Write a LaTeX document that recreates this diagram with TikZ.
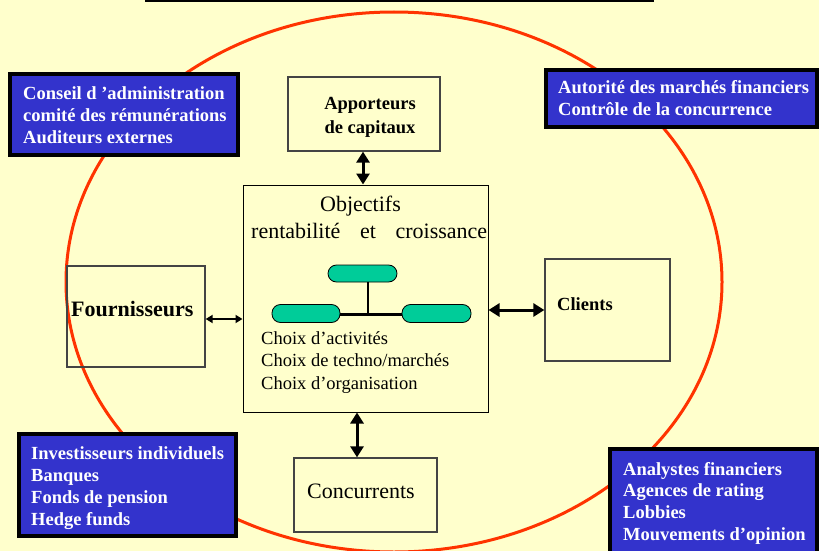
\documentclass[tikz,border=0pt]{standalone}
\usepackage{fontspec}
\setmainfont{Liberation Serif}
\usetikzlibrary{arrows.meta}
\definecolor{bg}{HTML}{FFFFCC}
\definecolor{bluebox}{HTML}{3333CC}
\definecolor{teal}{HTML}{00CC99}
\definecolor{redell}{HTML}{FF3300}
\definecolor{boxline}{HTML}{444444}
\tikzset{
  plainbox/.style={draw=boxline, line width=1.3pt, rectangle, inner sep=0pt},
  bluepanel/.style={draw=black, fill=bluebox, line width=4pt, rectangle, inner sep=0pt},
  bluetxt/.style={text=white, inner sep=0pt, anchor=base west, align=left,
    font=\fontsize{18.5}{22.3}\selectfont\bfseries},
  oval/.style={draw=black, fill=teal, line width=0.8pt, rounded corners=8.5pt, inner sep=0pt},
  bigarr/.style={line width=3pt, {Triangle[length=11pt,width=13pt]}-{Triangle[length=11pt,width=13pt]}},
  smallarr/.style={line width=2pt, {Triangle[length=7pt,width=8pt]}-{Triangle[length=7pt,width=8pt]}},
  lbl/.style={inner sep=0pt, anchor=base west}
}
\begin{document}
\begin{tikzpicture}[x=1pt,y=-1pt]
\useasboundingbox[fill=bg] (0,0) rectangle (819,551);
% title rule
\draw[line width=2pt] (145,1) -- (654,1);
% red ellipse
\draw[redell, line width=3pt] (394,282) ellipse [x radius=328pt, y radius=270pt];

% blue panels (text nodes anchored at the baseline of their last line)
\node[bluepanel, minimum width=228pt, minimum height=81pt] (cons) at (124,114.5) {};
\node[bluetxt] (const) at (23,143.6) {Conseil d ’administration\\comité des rémunérations\\Auditeurs externes};
\node[bluepanel, minimum width=271pt, minimum height=57pt] (auto) at (681.5,98.5) {};
\node[bluetxt, font=\fontsize{18.5}{22}\selectfont\bfseries] (autot) at (558,115.5) {Autorité des marchés financiers\\Contrôle de la concurrence};
\node[bluepanel, minimum width=217pt, minimum height=102pt] (inv) at (127.5,485) {};
\node[bluetxt] (invt) at (31,525.9) {Investisseurs individuels\\Banques\\Fonds de pension\\Hedge funds};
\node[bluepanel, minimum width=207pt, minimum height=104pt] (ana) at (713.5,501) {};
\node[bluetxt, font=\fontsize{18.5}{21.7}\selectfont\bfseries] (anat) at (623,540.1) {Analystes financiers\\Agences de rating\\Lobbies\\Mouvements d’opinion};

% plain boxes
\node[draw=black, line width=1pt, rectangle, inner sep=0pt, minimum width=245pt, minimum height=227pt] (obj) at (365.5,298.5) {};
\node[plainbox, minimum width=152pt, minimum height=74pt] (app) at (364,114) {};
\node[plainbox, minimum width=138pt, minimum height=101pt] (four) at (136,316.5) {};
\node[plainbox, minimum width=125pt, minimum height=102pt] (cli) at (607.5,310) {};
\node[plainbox, minimum width=143pt, minimum height=74pt] (conc) at (365.5,495) {};

% texts
\node[inner sep=0pt, anchor=base, align=center, font=\fontsize{18.5}{24}\selectfont\bfseries] (appt) at (370,133) {Apporteurs\\de capitaux};
\node[inner sep=0pt, anchor=base, font=\fontsize{22}{26}\selectfont] (objt1) at (360.5,211) {Objectifs};
\node[lbl, font=\fontsize{22}{26}\selectfont] (objt2) at (251,238) {\hbox to 236pt{rentabilité\hfil et\hfil croissance}};
\node[lbl, align=left, font=\fontsize{18.5}{22.5}\selectfont] (choix) at (261,389) {Choix d’activités\\Choix de techno/marchés\\Choix d’organisation};
\node[lbl, font=\fontsize{22}{26}\selectfont\bfseries] (fourt) at (71,316) {Fournisseurs};
\node[lbl, font=\fontsize{18.5}{22}\selectfont\bfseries] (clit) at (557,310) {Clients};
\node[lbl, font=\fontsize{22}{26}\selectfont] (conct) at (307,498) {Concurrents};

% tree of ovals
\node[oval, minimum width=69pt, minimum height=17pt] (otop) at (362.5,273.5) {};
\node[oval, minimum width=68pt, minimum height=18pt] (oleft) at (306,313.5) {};
\node[oval, minimum width=69pt, minimum height=18pt] (oright) at (436.5,313.5) {};
\coordinate (junc) at (368,314.5);
\draw[line width=2.5pt] (oleft.east |- junc) -- (oright.west |- junc);
\draw[line width=2.5pt] (otop.south -| junc) -- (junc);

% connectors
\draw[bigarr] (app.south -| 363,0) -- (obj.north -| 363,0);
\draw[bigarr] ([xshift=-8.5pt]conc.north) -- ([xshift=-8.5pt]conc.north |- obj.south);
\draw[bigarr] (cli.west) -- (cli.west -| obj.east);
\draw[smallarr] ([yshift=-2.5pt]four.east) -- ([yshift=-2.5pt]four.east -| obj.west);
\end{tikzpicture}
\end{document}
